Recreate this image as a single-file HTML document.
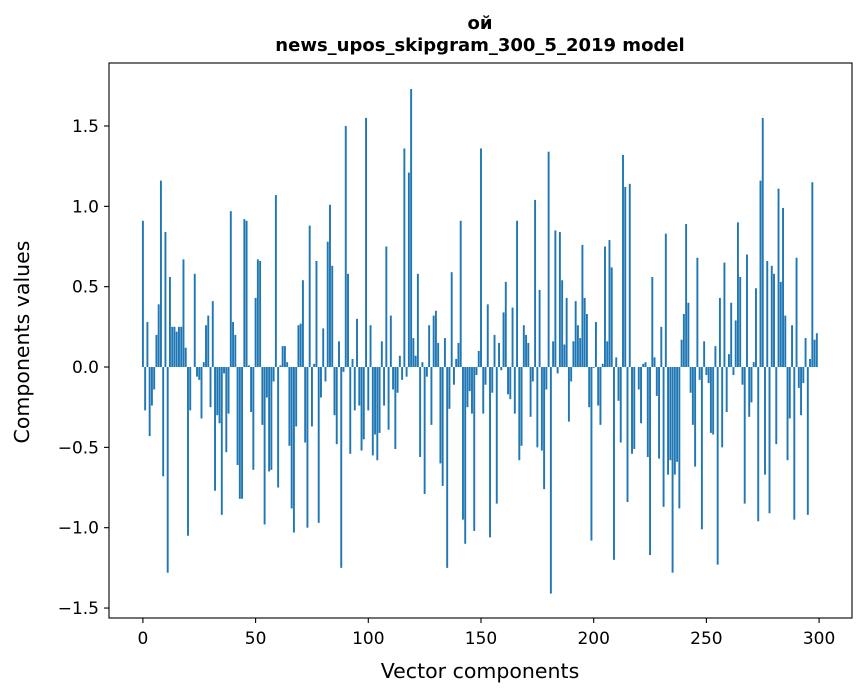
<!DOCTYPE html>
<html><head><meta charset="utf-8"><style>
html,body{margin:0;padding:0;background:#fff;}
svg{display:block;font-family:"DejaVu Sans","Liberation Sans",sans-serif;}
</style></head><body>
<svg id="chart" width="867" height="696" viewBox="0 0 867 696">
<rect x="0" y="0" width="867" height="696" fill="#fff"/>
<text x="480" y="29" text-anchor="middle" font-size="18" font-weight="bold">ой</text>
<text x="480" y="51" text-anchor="middle" font-size="18" font-weight="bold">news_upos_skipgram_300_5_2019 model</text>
<g id="bars"></g>
<g id="axes"></g>
<text x="480" y="678" text-anchor="middle" font-size="20.5">Vector components</text>
<text x="0" y="0" transform="translate(29,342) rotate(-90)" text-anchor="middle" font-size="20.5">Components values</text>
</svg>
<script>
const values = [
0.91,-0.27,0.28,-0.43,-0.24,-0.14,0.20,0.39,1.16,-0.68,
0.84,-1.28,0.56,0.25,0.25,0.22,0.25,0.25,0.67,0.12,
-1.05,-0.27,0.0,0.58,-0.06,-0.08,-0.32,0.03,0.26,0.32,
-0.25,0.41,-0.77,-0.30,-0.35,-0.92,-0.04,-0.53,-0.29,0.97,
0.28,0.20,-0.61,-0.82,-0.82,0.92,0.91,0.01,-0.28,-0.64,
0.43,0.67,0.66,-0.36,-0.98,-0.19,-0.65,-0.64,-0.09,1.07,
-0.75,0.01,0.13,0.13,0.03,-0.49,-0.88,-1.03,-0.37,0.26,
0.27,0.54,-0.47,-1.00,0.88,-0.37,0.02,0.66,-0.97,-0.19,
0.24,-0.09,0.78,1.01,0.63,-0.30,-0.48,0.16,-1.25,-0.03,
1.50,0.58,-0.54,0.05,-0.27,0.30,-0.24,-0.52,-0.45,1.55,
-0.27,0.26,-0.55,-0.42,-0.58,-0.41,0.16,-0.24,0.75,-0.39,
0.32,-0.14,-0.51,-0.16,0.07,-0.08,1.36,-0.06,1.21,1.73,
0.18,0.07,0.58,-0.56,0.03,-0.79,-0.06,0.26,-0.36,0.32,
0.35,0.15,-0.60,-0.74,0.18,-1.25,-0.26,0.59,-0.11,0.05,
0.15,0.91,-0.95,-1.10,-0.25,-0.15,-0.29,-1.02,-0.05,0.10,
1.36,-0.29,-0.11,0.39,-1.06,-0.16,0.20,-0.85,0.15,-0.02,
0.34,0.53,-0.17,-0.20,0.37,-0.29,0.91,-0.58,-0.49,0.26,
0.20,0.15,-0.31,-0.09,1.04,-0.50,0.48,-0.52,-0.76,-0.14,
1.34,-1.41,0.16,0.85,-0.04,0.84,0.54,0.14,0.43,-0.34,
-0.09,0.16,0.41,0.26,0.18,0.76,0.43,0.33,-0.25,-1.08,
-0.005,0.28,-0.24,-0.36,0.02,0.75,0.16,0.79,0.62,-1.20,
0.06,-0.21,-0.47,1.32,1.12,-0.84,1.14,-0.54,-0.51,0.0,
-0.14,-0.35,0.02,0.03,-0.56,-1.17,0.56,0.06,-0.18,-0.57,
0.25,-0.87,0.83,-0.67,-0.58,-1.28,-0.67,-0.59,-0.88,0.17,
0.33,0.89,0.40,-0.16,-0.36,-0.62,0.68,-0.08,-1.01,0.16,
-0.05,-0.10,-0.41,-0.42,0.13,-1.23,0.43,-0.50,0.65,-0.28,
0.08,0.40,-0.05,0.29,0.90,0.56,-0.11,-0.85,0.70,-0.31,
-0.22,0.03,0.49,-0.96,1.16,1.55,-0.67,0.66,-0.91,0.63,
0.58,-0.48,1.11,0.53,0.99,0.32,-0.58,-0.32,0.26,-0.95,
0.68,-0.13,-0.30,-0.10,0.18,-0.92,0.05,1.15,0.17,0.21
];
const xTicks = [0,50,100,150,200,250,300];
const yTicks = [-1.5,-1.0,-0.5,0.0,0.5,1.0,1.5];
const yTickLabels = ["\u22121.5","\u22121.0","\u22120.5","0.0","0.5","1.0","1.5"];

const L=109,R=852,T=63,B=618;
const xMin=-15.04, xMax=314.6, yMin=-1.562, yMax=1.892;
const sx = v => L + (v - xMin) / (xMax - xMin) * (R - L);
const sy = v => B - (v - yMin) / (yMax - yMin) * (B - T);
const NS="http://www.w3.org/2000/svg";
const bars=document.getElementById('bars');
const bw = sx(0.85) - sx(0);
values.forEach((v,i)=>{
  const r=document.createElementNS(NS,'rect');
  const y0=sy(0), y1=sy(v);
  r.setAttribute('x', sx(i)-bw/2);
  r.setAttribute('y', Math.min(y0,y1));
  r.setAttribute('width', bw);
  r.setAttribute('height', Math.max(Math.abs(y1-y0),0.01));
  r.setAttribute('fill','#1f77b4');
  
  
  bars.appendChild(r);
});
const axes=document.getElementById('axes');
const frame=document.createElementNS(NS,'rect');
frame.setAttribute('x',L);frame.setAttribute('y',T);
frame.setAttribute('width',R-L);frame.setAttribute('height',B-T);
frame.setAttribute('fill','none');frame.setAttribute('stroke','#000');frame.setAttribute('stroke-width','1.1');


axes.appendChild(frame);
xTicks.forEach(t=>{
  const x=sx(t);
  const ln=document.createElementNS(NS,'line');
  ln.setAttribute('x1',x);ln.setAttribute('x2',x);ln.setAttribute('y1',B);ln.setAttribute('y2',B+5);
  ln.setAttribute('stroke','#000');ln.setAttribute('stroke-width','1.1');
  
  
  axes.appendChild(ln);
  const tx=document.createElementNS(NS,'text');
  tx.setAttribute('x',x);tx.setAttribute('y',B+26);tx.setAttribute('text-anchor','middle');tx.setAttribute('font-size','17');
  tx.textContent=t;
  
  
  axes.appendChild(tx);
});
yTicks.forEach((t,k)=>{
  const y=sy(t);
  const ln=document.createElementNS(NS,'line');
  ln.setAttribute('x1',L-5);ln.setAttribute('x2',L);ln.setAttribute('y1',y);ln.setAttribute('y2',y);
  ln.setAttribute('stroke','#000');ln.setAttribute('stroke-width','1.1');
  
  
  axes.appendChild(ln);
  const tx=document.createElementNS(NS,'text');
  tx.setAttribute('x',L-10);tx.setAttribute('y',y+6);tx.setAttribute('text-anchor','end');tx.setAttribute('font-size','17');
  tx.textContent=yTickLabels[k];
  
  
  axes.appendChild(tx);
});
</script>
</body></html>
